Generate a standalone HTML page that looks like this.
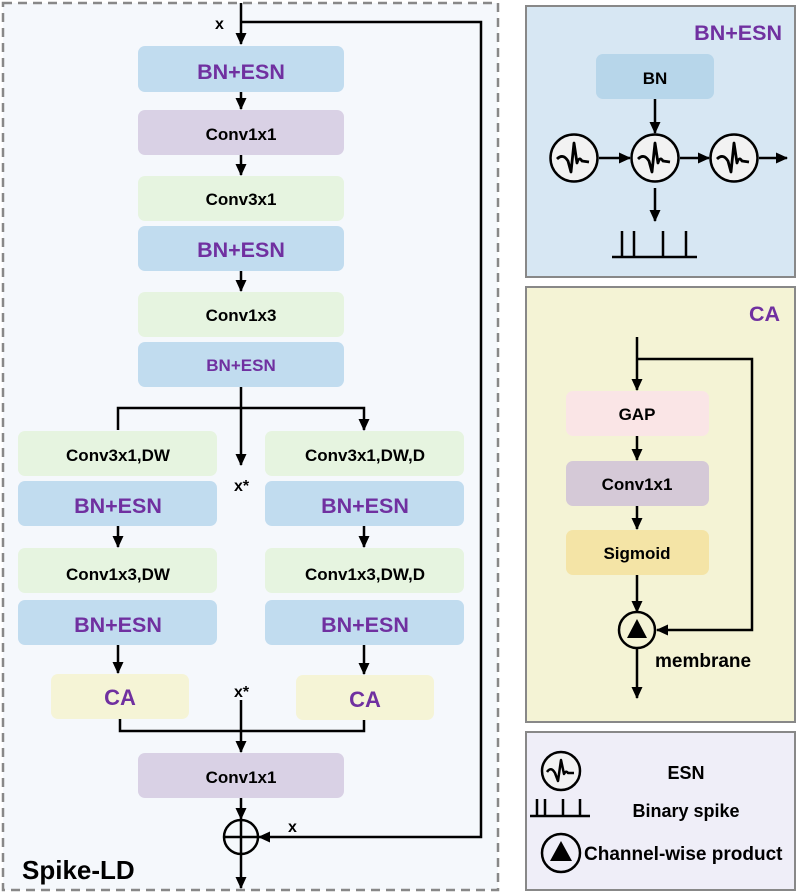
<!DOCTYPE html>
<html><head><meta charset="utf-8"><style>
html,body{margin:0;padding:0;background:#fff}
svg{display:block}
text{font-family:"Liberation Sans",sans-serif;font-weight:bold}
</style></head><body>
<svg width="797" height="894" viewBox="0 0 797 894" xmlns="http://www.w3.org/2000/svg">
<defs>
<marker id="a" markerWidth="12" markerHeight="12" refX="11" refY="6" orient="auto" markerUnits="userSpaceOnUse"><path d="M0,0.5 L12,6 L0,11.5 z" fill="#000"/></marker>
<symbol id="esn" viewBox="-25 -25 50 50" overflow="visible">
<circle cx="0" cy="0" r="23.5" fill="#f2f2f2" stroke="#000" stroke-width="2.5"/>
<path d="M-17,1 Q-11,-5 -6,3 L-3,14 L0,-15 L3,5 Q5,-2 8,3 L15,4" fill="none" stroke="#000" stroke-width="2.8" stroke-linejoin="round"/>
</symbol>
</defs>
<rect x="3" y="3" width="495" height="887" fill="#f5f8fc" stroke="#888" stroke-width="2.5" stroke-dasharray="9,6"/>
<g stroke="#000" stroke-width="2.5" fill="none">
<line x1="241" y1="3" x2="241" y2="44" marker-end="url(#a)"/>
<polyline points="241,22 481,22 481,837 259,837" marker-end="url(#a)"/>
<line x1="241" y1="92" x2="241" y2="109" marker-end="url(#a)"/>
<line x1="241" y1="155" x2="241" y2="175" marker-end="url(#a)"/>
<line x1="241" y1="271" x2="241" y2="291" marker-end="url(#a)"/>
<line x1="241" y1="387" x2="241" y2="465" marker-end="url(#a)"/>
<polyline points="118,430 118,408 364,408 364,430" marker-end="url(#a)"/>
<line x1="118" y1="525" x2="118" y2="547" marker-end="url(#a)"/>
<line x1="364" y1="525" x2="364" y2="547" marker-end="url(#a)"/>
<line x1="118" y1="644" x2="118" y2="673" marker-end="url(#a)"/>
<line x1="364" y1="644" x2="364" y2="674" marker-end="url(#a)"/>
<polyline points="120,718 120,731 364,731 364,719"/>
<line x1="241" y1="700" x2="241" y2="752" marker-end="url(#a)"/>
<line x1="241" y1="798" x2="241" y2="819" marker-end="url(#a)"/>
<line x1="241" y1="854" x2="241" y2="888" marker-end="url(#a)"/>
<circle cx="241" cy="837" r="17"/>
<line x1="224" y1="837" x2="258" y2="837"/>
<line x1="241" y1="820" x2="241" y2="854"/>
</g>
<g>
<rect x="138" y="46" width="206" height="46" rx="7" fill="#c1dcef"/>
<rect x="138" y="110" width="206" height="45" rx="7" fill="#d9d1e5"/>
<rect x="138" y="176" width="206" height="45" rx="7" fill="#e6f4e0"/>
<rect x="138" y="226" width="206" height="45" rx="7" fill="#c1dcef"/>
<rect x="138" y="292" width="206" height="45" rx="7" fill="#e6f4e0"/>
<rect x="138" y="342" width="206" height="45" rx="7" fill="#c1dcef"/>
<rect x="18" y="431" width="199" height="45" rx="7" fill="#e6f4e0"/>
<rect x="18" y="481" width="199" height="45" rx="7" fill="#c1dcef"/>
<rect x="18" y="548" width="199" height="45" rx="7" fill="#e6f4e0"/>
<rect x="18" y="600" width="199" height="45" rx="7" fill="#c1dcef"/>
<rect x="265" y="431" width="199" height="45" rx="7" fill="#e6f4e0"/>
<rect x="265" y="481" width="199" height="45" rx="7" fill="#c1dcef"/>
<rect x="265" y="548" width="199" height="45" rx="7" fill="#e6f4e0"/>
<rect x="265" y="600" width="199" height="45" rx="7" fill="#c1dcef"/>
<rect x="51" y="674" width="138" height="45" rx="7" fill="#f5f4d6"/>
<rect x="296" y="675" width="138" height="45" rx="7" fill="#f5f4d6"/>
<rect x="138" y="753" width="206" height="45" rx="7" fill="#d9d1e5"/>
</g>
<g text-anchor="middle">
<text x="241" y="79" font-size="21.5" fill="#7030a0">BN+ESN</text>
<text x="241" y="140" font-size="17">Conv1x1</text>
<text x="241" y="205" font-size="17">Conv3x1</text>
<text x="241" y="257" font-size="21.5" fill="#7030a0">BN+ESN</text>
<text x="241" y="321" font-size="17">Conv1x3</text>
<text x="241" y="371" font-size="17" fill="#7030a0">BN+ESN</text>
<text x="118" y="461" font-size="17">Conv3x1,DW</text>
<text x="118" y="513" font-size="21.5" fill="#7030a0">BN+ESN</text>
<text x="118" y="580" font-size="17">Conv1x3,DW</text>
<text x="118" y="632" font-size="21.5" fill="#7030a0">BN+ESN</text>
<text x="365" y="461" font-size="17">Conv3x1,DW,D</text>
<text x="365" y="513" font-size="21.5" fill="#7030a0">BN+ESN</text>
<text x="365" y="580" font-size="17">Conv1x3,DW,D</text>
<text x="365" y="632" font-size="21.5" fill="#7030a0">BN+ESN</text>
<text x="120" y="705" font-size="22" fill="#7030a0">CA</text>
<text x="365" y="707" font-size="22" fill="#7030a0">CA</text>
<text x="241" y="783" font-size="17">Conv1x1</text>
</g>
<text x="215" y="29" font-size="16">x</text>
<text x="234" y="491" font-size="16">x*</text>
<text x="234" y="697" font-size="16">x*</text>
<text x="288" y="832" font-size="16">x</text>
<text x="22" y="879" font-size="26">Spike-LD</text>

<rect x="526" y="6" width="269" height="271" fill="#d7e7f3" stroke="#888" stroke-width="2"/>
<text x="782" y="40" font-size="21.5" fill="#7030a0" text-anchor="end">BN+ESN</text>
<rect x="596" y="54" width="118" height="45" rx="7" fill="#b7d6ea"/>
<text x="655" y="84" font-size="17" text-anchor="middle">BN</text>
<g stroke="#000" stroke-width="2.5" fill="none">
<line x1="655" y1="99" x2="655" y2="133" marker-end="url(#a)"/>
<line x1="599" y1="158" x2="630" y2="158" marker-end="url(#a)"/>
<line x1="680" y1="158" x2="709" y2="158" marker-end="url(#a)"/>
<line x1="759" y1="158" x2="787" y2="158" marker-end="url(#a)"/>
<line x1="655" y1="188" x2="655" y2="221" marker-end="url(#a)"/>
<path d="M612,257 L697,257 M622,257 L622,231 M634,257 L634,231 M663,257 L663,231 M686,257 L686,231"/>
</g>
<use href="#esn" x="549" y="133" width="50" height="50"/>
<use href="#esn" x="630" y="133" width="50" height="50"/>
<use href="#esn" x="709" y="133" width="50" height="50"/>

<rect x="526" y="287" width="269" height="435" fill="#f4f3d5" stroke="#888" stroke-width="2"/>
<text x="780" y="321" font-size="21.5" fill="#7030a0" text-anchor="end">CA</text>
<rect x="566" y="391" width="143" height="45" rx="7" fill="#fae5e6"/>
<rect x="566" y="461" width="143" height="45" rx="7" fill="#d5c9d7"/>
<rect x="566" y="530" width="143" height="45" rx="7" fill="#f4e4a6"/>
<text x="637" y="420" font-size="17" text-anchor="middle">GAP</text>
<text x="637" y="490" font-size="17" text-anchor="middle">Conv1x1</text>
<text x="637" y="559" font-size="17" text-anchor="middle">Sigmoid</text>
<g stroke="#000" stroke-width="2.5" fill="none">
<line x1="637" y1="337" x2="637" y2="390" marker-end="url(#a)"/>
<polyline points="637,359 752,359 752,630 657,630" marker-end="url(#a)"/>
<line x1="637" y1="436" x2="637" y2="460" marker-end="url(#a)"/>
<line x1="637" y1="506" x2="637" y2="529" marker-end="url(#a)"/>
<line x1="637" y1="575" x2="637" y2="612" marker-end="url(#a)"/>
<line x1="637" y1="648" x2="637" y2="698" marker-end="url(#a)"/>
<circle cx="637" cy="630" r="18"/>
</g>
<path d="M637,619 L647,638 L627,638 z" fill="#000"/>
<text x="655" y="667" font-size="19">membrane</text>

<rect x="526" y="732" width="269" height="158" fill="#efeef8" stroke="#888" stroke-width="2"/>
<g stroke="#000" stroke-width="2.5" fill="none">
<circle cx="561" cy="771" r="19" fill="#f2f2f2"/>
<path d="M547,772 Q551,766 555,773 L558,781 L561,760 L564,774 Q566,770 568,773 L574,773" stroke-linejoin="round"/>
<path d="M530,816 L590,816 M537,816 L537,799 M545,816 L545,799 M563,816 L563,799 M580,816 L580,799"/>
<circle cx="561" cy="853" r="19"/>
</g>
<path d="M561,841 L572,861 L550,861 z" fill="#000"/>
<text x="686" y="779" font-size="18" text-anchor="middle">ESN</text>
<text x="686" y="817" font-size="18" text-anchor="middle">Binary spike</text>
<text x="584" y="860" font-size="19">Channel-wise product</text>
</svg>
</body></html>
